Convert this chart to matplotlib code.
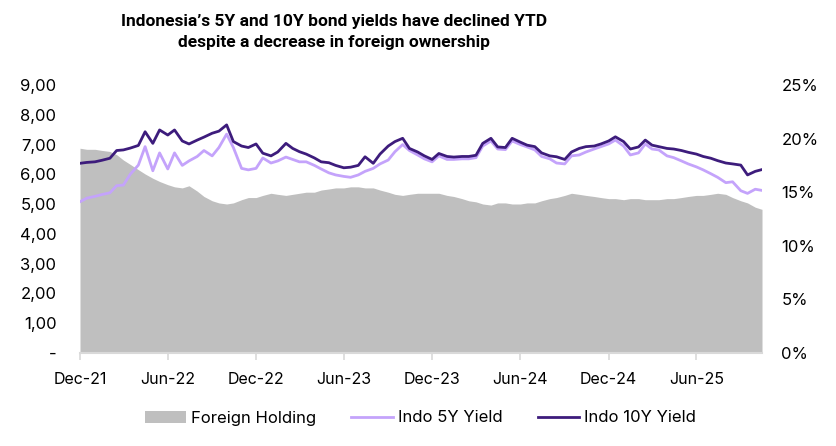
import matplotlib
matplotlib.use("Agg")
import matplotlib.pyplot as plt
import matplotlib.dates as mdates
from matplotlib.patches import Patch
from matplotlib.lines import Line2D
from matplotlib.ticker import FuncFormatter, MultipleLocator
import pandas as pd

# semi-monthly readings, Dec-21 .. Oct-25
dates = pd.date_range("2021-12-01", periods=94, freq="SMS")

# foreign ownership share (%), right axis
foreign_holding = [
    19.1, 19.0, 19.0, 18.9, 18.8, 18.5, 18.0, 17.6, 17.1, 16.7,
    16.3, 16.0, 15.7, 15.5, 15.4, 15.6, 15.1, 14.6, 14.2, 14.0,
    13.9, 14.0, 14.3, 14.5, 14.5, 14.7, 14.9, 14.8, 14.7, 14.8,
    14.9, 15.0, 15.0, 15.2, 15.3, 15.4, 15.4, 15.5, 15.5, 15.4,
    15.4, 15.2, 15.0, 14.8, 14.7, 14.8, 14.9, 14.9, 14.9, 14.9,
    14.7, 14.6, 14.4, 14.2, 14.1, 13.9, 13.8, 14.0, 14.0, 13.9,
    13.9, 14.0, 14.0, 14.2, 14.4, 14.5, 14.7, 14.9, 14.8, 14.7,
    14.6, 14.5, 14.4, 14.4, 14.3, 14.4, 14.4, 14.3, 14.3, 14.3,
    14.4, 14.4, 14.5, 14.6, 14.7, 14.7, 14.8, 14.9, 14.8, 14.5,
    14.2, 14.0, 13.6, 13.4,
]

yield_5y = [
    5.08, 5.20, 5.26, 5.32, 5.38, 5.62, 5.64, 6.00, 6.31, 6.93,
    6.12, 6.72, 6.18, 6.72, 6.30, 6.45, 6.60, 6.80, 6.62, 6.90,
    7.35, 6.90, 6.20, 6.15, 6.20, 6.55, 6.38, 6.45, 6.58, 6.50,
    6.42, 6.42, 6.30, 6.18, 6.05, 5.98, 5.93, 5.90, 5.98, 6.10,
    6.20, 6.35, 6.48, 6.76, 7.00, 6.80, 6.65, 6.52, 6.42, 6.62,
    6.50, 6.50, 6.52, 6.52, 6.56, 6.95, 7.12, 6.85, 6.83, 7.12,
    7.00, 6.92, 6.82, 6.60, 6.52, 6.38, 6.35, 6.62, 6.65, 6.75,
    6.85, 6.93, 7.02, 7.15, 6.95, 6.65, 6.72, 7.02, 6.85, 6.82,
    6.62, 6.56, 6.45, 6.35, 6.25, 6.15, 6.02, 5.90, 5.72, 5.75,
    5.45, 5.36, 5.50, 5.46,
]

yield_10y = [
    6.37, 6.40, 6.42, 6.47, 6.54, 6.80, 6.82, 6.88, 6.97, 7.43,
    7.04, 7.49, 7.32, 7.49, 7.12, 7.02, 7.15, 7.25, 7.38, 7.45,
    7.66, 7.10, 6.95, 6.90, 7.02, 6.71, 6.62, 6.75, 7.04, 6.87,
    6.76, 6.68, 6.55, 6.42, 6.39, 6.30, 6.22, 6.24, 6.30, 6.59,
    6.37, 6.68, 6.95, 7.10, 7.21, 6.87, 6.75, 6.62, 6.50, 6.70,
    6.60, 6.58, 6.60, 6.60, 6.64, 7.04, 7.21, 6.92, 6.90, 7.21,
    7.08, 6.98, 6.93, 6.72, 6.62, 6.59, 6.50, 6.75, 6.87, 6.93,
    6.95, 7.02, 7.12, 7.26, 7.10, 6.85, 6.92, 7.15, 6.98, 6.93,
    6.87, 6.85, 6.80, 6.74, 6.68, 6.60, 6.54, 6.46, 6.38, 6.35,
    6.31, 5.98, 6.10, 6.16,
]

c_area = "#bfbfbf"
c_5y = "#c4a3fb"
c_10y = "#3d1c7c"

plt.rcParams["font.family"] = ["Inter", "DejaVu Sans"]

fig = plt.figure(figsize=(8.36, 4.46), dpi=100)
ax = fig.add_axes([80 / 836, 1 - 353 / 446, 682 / 836, 268 / 446])
ax2 = ax.twinx()

ax2.fill_between(dates, foreign_holding, color=c_area, lw=0)
ax.plot(dates, yield_5y, color=c_5y, lw=2.0)
ax.plot(dates, yield_10y, color=c_10y, lw=2.0)

# lines above the area
ax.set_zorder(ax2.get_zorder() + 1)
ax.patch.set_visible(False)

ax.set_xlim(dates[0], dates[-1])
ax.set_ylim(0, 9)
ax2.set_ylim(0, 25)
ax.yaxis.set_major_locator(MultipleLocator(1))
ax2.yaxis.set_major_locator(MultipleLocator(5))
ax.yaxis.set_major_formatter(FuncFormatter(lambda v, p: "-" if v == 0 else f"{v:.2f}".replace(".", ",")))
ax2.yaxis.set_major_formatter(FuncFormatter(lambda v, p: f"{v:.0f}%"))

ax.xaxis.set_major_locator(mdates.MonthLocator(bymonth=[6, 12]))
ax.xaxis.set_major_formatter(mdates.DateFormatter("%b-%y"))

for a in (ax, ax2):
    for s in a.spines.values():
        s.set_visible(False)
ax.spines["bottom"].set_visible(True)
ax.spines["bottom"].set_color("#d9d9d9")
ax.spines["bottom"].set_linewidth(1.5)

ax.tick_params(axis="x", length=5, width=1.2, color="#d9d9d9", labelsize=11.5, pad=9, labelcolor="#000000")
ax.tick_params(axis="y", length=0, labelsize=12, pad=17)
ax2.tick_params(axis="y", length=0, labelsize=12, pad=14)

handles = [
    Patch(facecolor=c_area, edgecolor="none"),
    Line2D([], [], color=c_5y, lw=2),
    Line2D([], [], color=c_10y, lw=2),
]
fig.legend(handles, ["Foreign Holding", "Indo 5Y Yield", "Indo 10Y Yield"],
           loc="center", bbox_to_anchor=(0.503, 1 - 418 / 446), ncol=3, frameon=False,
           fontsize=12, handlelength=2.5, handletextpad=0.3, columnspacing=2.1)

fig.text(0.40, 1 - 32 / 446, "Indonesia’s 5Y and 10Y bond yields have declined YTD\ndespite a decrease in foreign ownership",
         ha="center", va="center", fontsize=12.5, fontweight="bold", linespacing=1.45,
         family=["Roboto", "DejaVu Sans"])

fig.savefig("out.png", dpi=100)
